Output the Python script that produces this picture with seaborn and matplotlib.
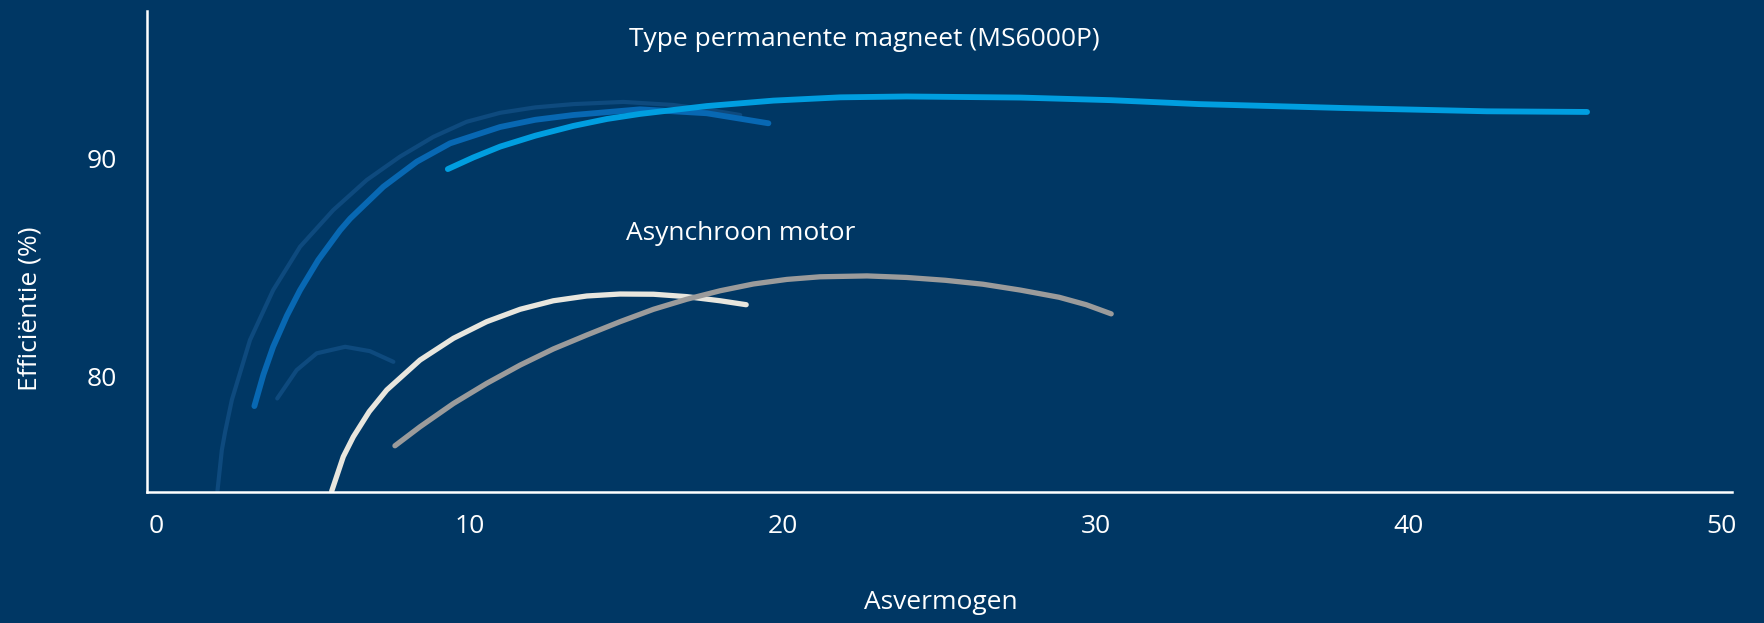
import matplotlib
matplotlib.use("Agg")
import matplotlib.pyplot as plt
import seaborn as sns
import pandas as pd

# ---- data ----
pm_faint_x = [1.95, 2.09, 2.2, 2.41, 2.99, 3.73, 4.59, 5.65, 6.72, 7.78, 8.85, 9.91, 10.98, 12.1, 13.32, 14.92, 16.51, 17.6, 18.65]
pm_faint_y = [74.75, 76.63, 77.5, 78.93, 81.68, 83.97, 85.96, 87.64, 89.02, 90.09, 91.0, 91.69, 92.1, 92.35, 92.5, 92.6, 92.46, 92.25, 92.0]

pm_small_x = [3.86, 4.48, 5.12, 6.03, 6.82, 7.57]
pm_small_y = [79.0, 80.3, 81.07, 81.37, 81.17, 80.68]

pm_mid_x = [3.13, 3.42, 3.73, 4.17, 4.59, 5.17, 5.87, 6.19, 7.25, 8.32, 9.38, 10.98, 12.1, 13.32, 15.45, 17.58, 19.55]
pm_mid_y = [78.65, 80.1, 81.37, 82.8, 83.97, 85.35, 86.72, 87.25, 88.71, 89.86, 90.7, 91.45, 91.78, 92.0, 92.26, 92.08, 91.62]

pm_light_x = [9.31, 10.12, 10.98, 12.1, 13.32, 14.4, 15.45, 17.58, 19.71, 21.84, 23.96, 27.6, 30.5, 33.3, 37.94, 42.5, 45.7]
pm_light_y = [89.52, 90.05, 90.55, 91.05, 91.5, 91.82, 92.05, 92.41, 92.66, 92.81, 92.85, 92.8, 92.68, 92.5, 92.32, 92.17, 92.14]

asm_white_x = [5.6, 5.97, 6.29, 6.8, 7.36, 8.42, 9.49, 10.55, 11.62, 12.68, 13.75, 14.81, 15.88, 16.94, 18.01, 18.84]
asm_white_y = [74.75, 76.33, 77.24, 78.4, 79.39, 80.76, 81.76, 82.52, 83.09, 83.48, 83.7, 83.79, 83.78, 83.67, 83.48, 83.3]

asm_gray_x = [7.62, 8.42, 9.49, 10.55, 11.62, 12.68, 13.75, 14.81, 15.88, 16.94, 18.01, 19.07, 20.14, 21.2, 22.7, 23.96, 25.2, 26.4, 27.6, 28.84, 29.7, 30.5]
asm_gray_y = [76.83, 77.7, 78.77, 79.69, 80.53, 81.27, 81.91, 82.52, 83.09, 83.55, 83.94, 84.25, 84.46, 84.58, 84.62, 84.55, 84.42, 84.24, 83.97, 83.64, 83.3, 82.88]

x_ticks = [0, 10, 20, 30, 40, 50]
y_ticks = [80, 90]
title_pm = "Type permanente magneet (MS6000P)"
title_asm = "Asynchroon motor"
x_label = "Asvermogen"
y_label = "Efficiëntie (%)"

BG = "#003764"
FG = "white"

sns.set_style("white")
plt.rcParams['font.family'] = ['Open Sans', 'DejaVu Sans']

fig = plt.figure(figsize=(17.64, 6.23), dpi=100, facecolor=BG)
ax = fig.add_axes([147/1764, 1 - 492/623, (1732 - 147)/1764, (492 - 11)/623])
ax.set_facecolor(BG)

series = [
    (pm_faint_x, pm_faint_y, "#0e4a7e", 3.0),
    (pm_small_x, pm_small_y, "#0e4a7e", 3.0),
    (pm_mid_x, pm_mid_y, "#0868b3", 4.2),
    (pm_light_x, pm_light_y, "#009ee0", 4.2),
    (asm_white_x, asm_white_y, "#e8e6de", 3.8),
    (asm_gray_x, asm_gray_y, "#9b9b9b", 3.8),
]
for xs, ys, c, lw in series:
    df = pd.DataFrame({"x": xs, "y": ys})
    sns.lineplot(data=df, x="x", y="y", ax=ax, color=c, linewidth=lw,
                 sort=False, estimator=None, solid_capstyle="round",
                 solid_joinstyle="round")

ax.set_xlim(-0.30, 50.33)
ax.set_ylim(74.71, 96.77)
ax.set_xticks(x_ticks)
ax.set_yticks(y_ticks)
ax.tick_params(axis="both", length=0, colors=FG, labelsize=19)
ax.tick_params(axis="x", pad=16)
ax.tick_params(axis="y", pad=22)

for s in ["top", "right"]:
    ax.spines[s].set_visible(False)
for s in ["left", "bottom"]:
    ax.spines[s].set_color(FG)
    ax.spines[s].set_linewidth(1.8)

ax.set_xlabel(x_label, color=FG, fontsize=19)
ax.set_ylabel(y_label, color=FG, fontsize=19)
ax.xaxis.set_label_coords(0.5006, -0.229)
ax.yaxis.set_label_coords(-0.0738, 0.38)
ax.xaxis.label.set_verticalalignment("center")
ax.yaxis.label.set_verticalalignment("center")

ax.text(15.1, 95.46, title_pm, color=FG, fontsize=19, ha="left", va="center")
ax.text(15.0, 86.55, title_asm, color=FG, fontsize=19, ha="left", va="center")

fig.savefig("out.png", dpi=100, facecolor=BG)
